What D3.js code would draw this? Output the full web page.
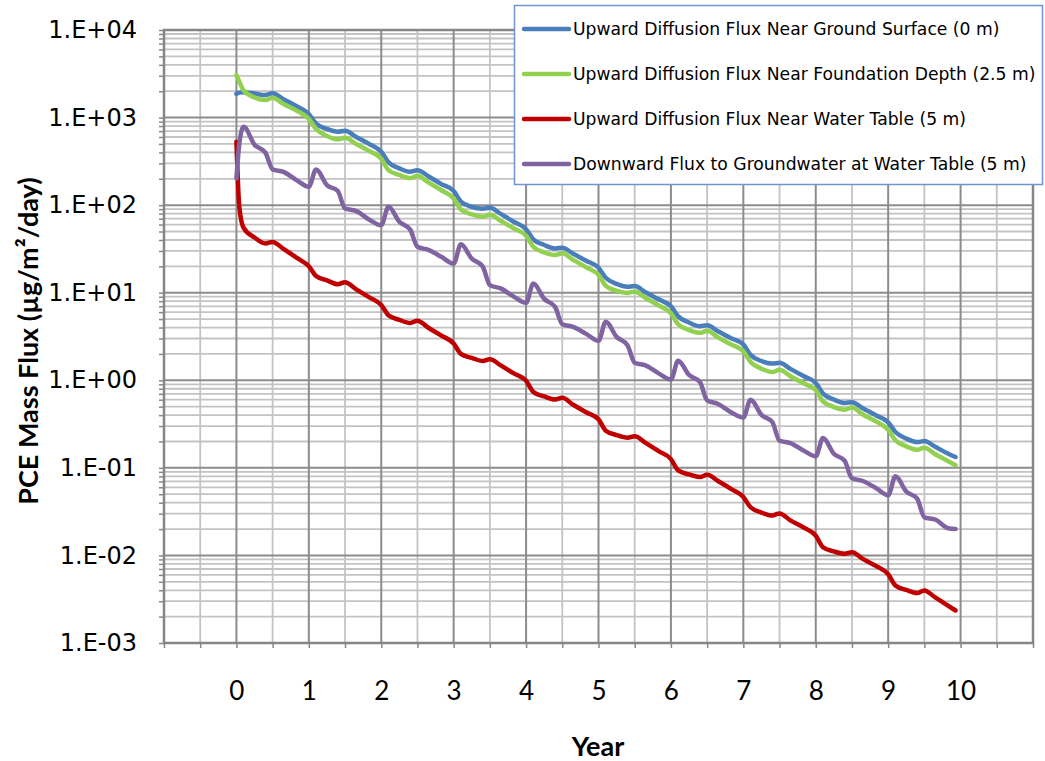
<!DOCTYPE html>
<html><head><meta charset="utf-8">
<script src="https://cdn.jsdelivr.net/npm/d3@7/dist/d3.min.js"></script>
<style>body{margin:0;background:#fff} svg{display:block}</style>
</head><body>
<svg id="chart" width="1045" height="761"></svg>
<script>
// ---- data ----
const years = [0,0.04,0.1,0.25,0.4,0.5,0.65,0.83,
  1,1.1,1.25,1.4,1.5,1.65,1.83,
  2,2.1,2.25,2.4,2.5,2.65,2.83,
  3,3.1,3.25,3.4,3.5,3.65,3.83,
  4,4.1,4.25,4.4,4.5,4.65,4.83,
  5,5.1,5.25,5.4,5.5,5.65,5.83,
  6,6.1,6.25,6.4,6.5,6.65,6.83,
  7,7.1,7.25,7.4,7.5,7.65,7.83,
  8,8.1,8.25,8.4,8.5,8.65,8.83,
  9,9.1,9.25,9.4,9.5,9.65,9.83,
  9.93];

const groundSurface = [1862,1928,1950,1880,1807,1892,1622,1349,
  1096,851,741,689,708,603,501,
  407,309,263,240,251,214,174,
  145,110,95.5,91.2,93.3,79.4,64.6,
  53.1,40.7,35.1,32.0,32.7,27.9,23.2,
  19.3,14.8,12.6,11.7,11.9,10.1,8.41,
  7.00,5.37,4.57,4.14,4.24,3.63,3.02,
  2.57,1.95,1.66,1.55,1.585,1.35,1.12,
  0.933,0.708,0.603,0.551,0.562,0.479,0.398,
  0.331,0.257,0.216,0.197,0.202,0.174,0.145,
  0.133];

const foundationDepth = [3060,2570,2042,1698,1585,1679,1429,1202,
  966,741,617,564,589,501,417,
  339,251,221,204,216,182,148,
  119,89.1,78.5,73.6,77.6,66.1,54.3,
  44.7,33.5,28.8,26.9,28.2,23.7,19.5,
  16.0,12.0,10.5,9.95,10.35,8.71,7.16,
  5.82,4.37,3.76,3.48,3.67,3.09,2.57,
  2.14,1.62,1.36,1.24,1.32,1.11,0.923,
  0.776,0.575,0.495,0.462,0.490,0.407,0.339,
  0.272,0.207,0.176,0.161,0.170,0.143,0.119,
  0.107];

const waterTableUp = [530,95.5,55.0,42.7,36.5,38.0,31.6,25.1,
  20.0,15.5,13.8,12.5,13.2,11.0,8.91,
  7.24,5.53,4.90,4.52,4.79,3.98,3.24,
  2.63,2.00,1.80,1.66,1.74,1.48,1.20,
  0.989,0.736,0.653,0.603,0.631,0.525,0.432,
  0.359,0.266,0.237,0.221,0.229,0.193,0.155,
  0.126,0.0935,0.0841,0.0785,0.0832,0.0708,0.0575,
  0.0465,0.0355,0.0309,0.0286,0.0302,0.0251,0.0209,
  0.0168,0.0124,0.0111,0.01045,0.0109,0.00912,0.00759,
  0.0061,0.00454,0.00403,0.00372,0.00398,0.00331,0.00266,
  0.00235];

const groundwaterDown = [202,501,785,490,398,256,240,193,
  162,256,169,145,91.6,86.1,68.7,
  59.0,95.7,64.6,52.5,33.4,30.9,25.7,
  21.5,35.8,24.5,20.0,12.2,11.2,9.02,
  7.66,12.7,8.51,6.89,4.37,4.07,3.39,
  2.82,4.65,3.13,2.51,1.585,1.48,1.20,
  1.02,1.67,1.15,0.957,0.589,0.537,0.432,
  0.375,0.601,0.403,0.334,0.204,0.192,0.158,
  0.135,0.219,0.145,0.120,0.0759,0.0708,0.0589,
  0.0485,0.080,0.0537,0.0445,0.0272,0.0257,0.0204,
  0.020];

const seriesNames = [
  "Upward Diffusion Flux Near Ground Surface (0 m)",
  "Upward Diffusion Flux Near Foundation Depth (2.5 m)",
  "Upward Diffusion Flux Near Water Table (5 m)",
  "Downward Flux to Groundwater at Water Table (5 m)"
];
const seriesColors = ["#4a7ebb", "#92d050", "#c00000", "#8064a2"];
const xTickLabels = [0,1,2,3,4,5,6,7,8,9,10];
const yTickLabels = ["1.E-03","1.E-02","1.E-01","1.E+00","1.E+01","1.E+02","1.E+03","1.E+04"];
const yDecades = [1e-3,1e-2,1e-1,1e0,1e1,1e2,1e3,1e4];
const xTitle = "Year";
const yTitle = "PCE Mass Flux (µg/m²/day)";

// ---- layout ----
const L = 164, R = 1033, T = 30, B = 643;
const svg = d3.select("#chart");
const x = d3.scaleLinear().domain([-1, 11]).range([L, R]);
const y = d3.scaleLog().domain([1e-3, 1e4]).range([B, T]);

const minorY = [];
for (let e = -3; e < 4; e++) for (let k = 2; k <= 9; k++) minorY.push(k * Math.pow(10, e));
const allY = yDecades.concat(minorY).sort((a,b)=>a-b);
const majorX = d3.range(-1, 12, 1);
const minorX = d3.range(-0.5, 11, 1);
const allX = d3.range(-1, 11.01, 0.5);

// gridlines
const g = svg.append("g");
g.selectAll(".mny").data(minorY).join("line")
  .attr("x1", L).attr("x2", R).attr("y1", d => y(d)).attr("y2", d => y(d))
  .attr("stroke", "#c3c3c3").attr("stroke-width", 1.8);
g.selectAll(".mnx").data(minorX).join("line")
  .attr("y1", T).attr("y2", B).attr("x1", d => x(d)).attr("x2", d => x(d))
  .attr("stroke", "#c3c3c3").attr("stroke-width", 1.8);
g.selectAll(".mjy").data(yDecades).join("line")
  .attr("x1", L).attr("x2", R).attr("y1", d => y(d)).attr("y2", d => y(d))
  .attr("stroke", "#8c8c8c").attr("stroke-width", 2);
g.selectAll(".mjx").data(majorX).join("line")
  .attr("y1", T).attr("y2", B).attr("x1", d => x(d)).attr("x2", d => x(d))
  .attr("stroke", "#8c8c8c").attr("stroke-width", 2);

// axes
const xAxis = d3.axisBottom(x).tickValues(allX).tickSizeInner(5).tickSizeOuter(0).tickPadding(34)
  .tickFormat(d => xTickLabels.includes(d) ? String(d) : "");
const gx = svg.append("g").attr("transform", `translate(0,${B})`).call(xAxis);
gx.select(".domain").remove();
gx.selectAll("line").attr("stroke", "#888").attr("stroke-width", 1.5);
gx.selectAll("text").attr("font-family", "Lato, sans-serif").attr("font-size", 26).attr("fill", "#000");

const yAxis = d3.axisLeft(y).tickValues(allY).tickSizeInner(5).tickSizeOuter(0).tickPadding(22)
  .tickFormat(d => { const i = yDecades.findIndex(v => Math.abs(v - d) / v < 1e-9); return i >= 0 ? yTickLabels[i] : ""; });
const gy = svg.append("g").attr("transform", `translate(${L},0)`).call(yAxis);
gy.select(".domain").remove();
gy.selectAll("line").attr("stroke", "#888").attr("stroke-width", 1.5);
gy.selectAll("text").attr("font-family", "DejaVu Sans, Verdana, sans-serif").attr("font-size", 24).attr("fill", "#000");

// plot border
svg.append("rect").attr("x", L).attr("y", T).attr("width", R - L).attr("height", B - T)
  .attr("fill", "none").attr("stroke", "#868686").attr("stroke-width", 2.5);

// series
const series = [groundSurface, foundationDepth, waterTableUp, groundwaterDown];
const line = d3.line().x((d, i) => x(years[i])).y(d => y(d)).curve(d3.curveMonotoneX);
series.forEach((vals, k) => {
  svg.append("path").attr("d", line(vals)).attr("fill", "none")
    .attr("stroke", seriesColors[k]).attr("stroke-width", 4.5)
    .attr("stroke-linejoin", "round").attr("stroke-linecap", "round");
});

// titles
svg.append("text").attr("x", 598).attr("y", 745).attr("text-anchor", "middle").attr("dominant-baseline", "central")
  .attr("font-family", "Lato, sans-serif").attr("font-weight", "bold").attr("font-size", 27).text(xTitle);
svg.append("text").attr("transform", "translate(27,341) rotate(-90)").attr("text-anchor", "middle")
  .attr("dominant-baseline", "central")
  .attr("font-family", "Lato, sans-serif").attr("font-weight", "bold").attr("font-size", 27).text(yTitle);

// legend
const lg = svg.append("g");
lg.append("rect").attr("x", 514.5).attr("y", 5.5).attr("width", 528).attr("height", 179)
  .attr("fill", "#fff").attr("stroke", "#6f95cc").attr("stroke-width", 1.5);
const rowY = d3.scalePoint().domain(seriesNames).range([29, 164]);
seriesNames.forEach((name, k) => {
  lg.append("line").attr("x1", 524).attr("x2", 569).attr("y1", rowY(name)).attr("y2", rowY(name))
    .attr("stroke", seriesColors[k]).attr("stroke-width", 4.5).attr("stroke-linecap", "round");
  lg.append("text").attr("x", 573).attr("y", rowY(name)).attr("dominant-baseline", "central")
    .attr("font-family", "DejaVu Sans, Verdana, sans-serif").attr("font-size", 17.2).attr("fill", "#000").text(name);
});
</script>
</body></html>
